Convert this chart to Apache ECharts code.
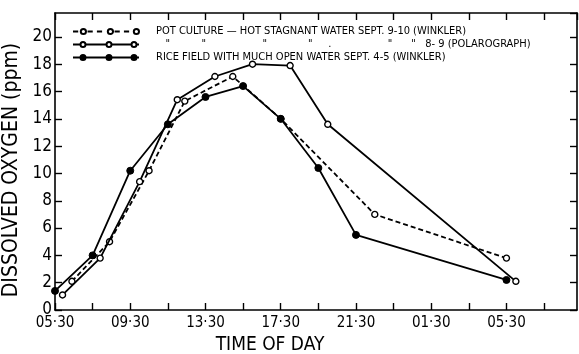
<!DOCTYPE html>
<html>
<head>
<meta charset="utf-8">
<script src="https://cdn.jsdelivr.net/npm/echarts@6/dist/echarts.min.js"></script>
<style>
  html, body { margin: 0; padding: 0; background: #fff; }
  #chart { width: 579px; height: 354px; }
</style>
</head>
<body>
<div id="chart"></div>
<script>
// hours after 05:30 on day one
const potHours = [0.9, 2.9, 5.0, 6.9, 9.45, 12.0, 17.0, 24.0]
const potValues = [2.1, 5.0, 10.2, 15.3, 17.1, 14.0, 7.0, 3.8]

const polHours = [0.4, 2.4, 4.5, 6.5, 8.5, 10.5, 12.5, 14.5, 24.5]
const polValues = [1.1, 3.8, 9.4, 15.4, 17.1, 18.0, 17.9, 13.6, 2.1]

const riceHours = [0, 2, 4, 6, 8, 10, 12, 14, 16, 24]
const riceValues = [1.4, 4.0, 10.2, 13.6, 15.6, 16.4, 14.0, 10.4, 5.5, 2.2]

const timeLabels = ['05·30', '09·30', '13·30', '17·30', '21·30', '01·30', '05·30']

const seriesNames = [
  'POT CULTURE — HOT STAGNANT WATER SEPT. 9-10 (WINKLER)',
  '   "          "                  "             "     .                  "      "   8- 9 (POLAROGRAPH)',
  'RICE FIELD WITH MUCH OPEN WATER SEPT. 4-5 (WINKLER)',
]

const font = '"DejaVu Sans Condensed", "Liberation Sans Narrow", sans-serif'

const zip = (xs, ys) => xs.map((x, i) => [x, ys[i]])

// legend samples: a line with three markers
const circles = 'M12.5,4A2.5,2.5,0,1,1,7.5,4A2.5,2.5,0,1,1,12.5,4Z' +
  'M38.5,4A2.5,2.5,0,1,1,33.5,4A2.5,2.5,0,1,1,38.5,4Z' +
  'M63.5,4A2.5,2.5,0,1,1,58.5,4A2.5,2.5,0,1,1,63.5,4Z'
const dashIcon = 'path://M0,4L5,4M14,4L19,4M23,4L28,4M40,4L45,4M49,4L54,4' + circles
const solidIcon = 'path://M0,4L7.5,4M12.5,4L33.5,4M38.5,4L58.5,4M63.5,4L66,4' + circles

const chart = echarts.init(document.getElementById('chart'), null, { renderer: 'canvas' })

const frameAxis = {
  min: 0,
  interval: 2,
  axisLine: { show: true, onZero: false, lineStyle: { color: '#000', width: 1.6 } },
  axisTick: { show: true, inside: true, length: 7, lineStyle: { color: '#000', width: 1.4 } },
  axisLabel: { show: false },
  splitLine: { show: false },
}

chart.setOption({
  backgroundColor: '#fff',
  animation: false,
  grid: { left: 55, right: 2, top: 13, bottom: 44, containLabel: false, outerBoundsMode: 'none' },
  legend: {
    orient: 'vertical',
    left: 67,
    top: 21,
    itemWidth: 66,
    itemHeight: 8,
    itemGap: 2,
    textStyle: { fontFamily: font, fontSize: 11, color: '#000', padding: [0, 0, 0, 12] },
    data: [
      { name: seriesNames[0], icon: dashIcon },
      { name: seriesNames[1], icon: solidIcon },
      { name: seriesNames[2], icon: solidIcon },
    ],
  },
  xAxis: [
    {
      ...frameAxis,
      type: 'value',
      max: 27.75,
      position: 'bottom',
      name: 'TIME OF DAY',
      nameLocation: 'middle',
      nameGap: 26,
      nameTextStyle: { fontFamily: font, fontSize: 19, color: '#000', padding: [0, 92, 0, 0] },
      axisLabel: {
        show: true,
        margin: 6,
        fontFamily: font,
        fontSize: 15,
        color: '#000',
        showMaxLabel: false,
        formatter: (v) => (v % 4 === 0 ? timeLabels[v / 4] : ''),
      },
    },
    { ...frameAxis, type: 'value', max: 27.75, position: 'top' },
  ],
  yAxis: [
    {
      ...frameAxis,
      type: 'value',
      max: 21.75,
      position: 'left',
      name: 'DISSOLVED OXYGEN (ppm)',
      nameLocation: 'middle',
      nameGap: 30,
      nameTextStyle: { fontFamily: font, fontSize: 21, color: '#000', padding: [0, 17, 0, 0] },
      axisLabel: {
        show: true,
        margin: 3,
        fontFamily: font,
        fontSize: 17,
        color: '#000',
        showMaxLabel: false,
      },
    },
    { ...frameAxis, type: 'value', max: 21.75, position: 'right' },
  ],
  series: [
    {
      name: seriesNames[0],
      type: 'line',
      data: zip(potHours, potValues),
      symbol: 'circle',
      symbolSize: 6,
      itemStyle: { color: '#fff', borderColor: '#000', borderWidth: 1.4 },
      lineStyle: { color: '#000', width: 1.8, type: [5, 3] },
      z: 3,
    },
    {
      name: seriesNames[1],
      type: 'line',
      data: zip(polHours, polValues),
      symbol: 'circle',
      symbolSize: 6,
      itemStyle: { color: '#fff', borderColor: '#000', borderWidth: 1.4 },
      lineStyle: { color: '#000', width: 1.8 },
      z: 4,
    },
    {
      name: seriesNames[2],
      type: 'line',
      data: zip(riceHours, riceValues),
      symbol: 'circle',
      symbolSize: 7,
      itemStyle: { color: '#000', borderColor: '#000', borderWidth: 1 },
      lineStyle: { color: '#000', width: 1.8 },
      z: 5,
    },
  ],
})
</script>
</body>
</html>
